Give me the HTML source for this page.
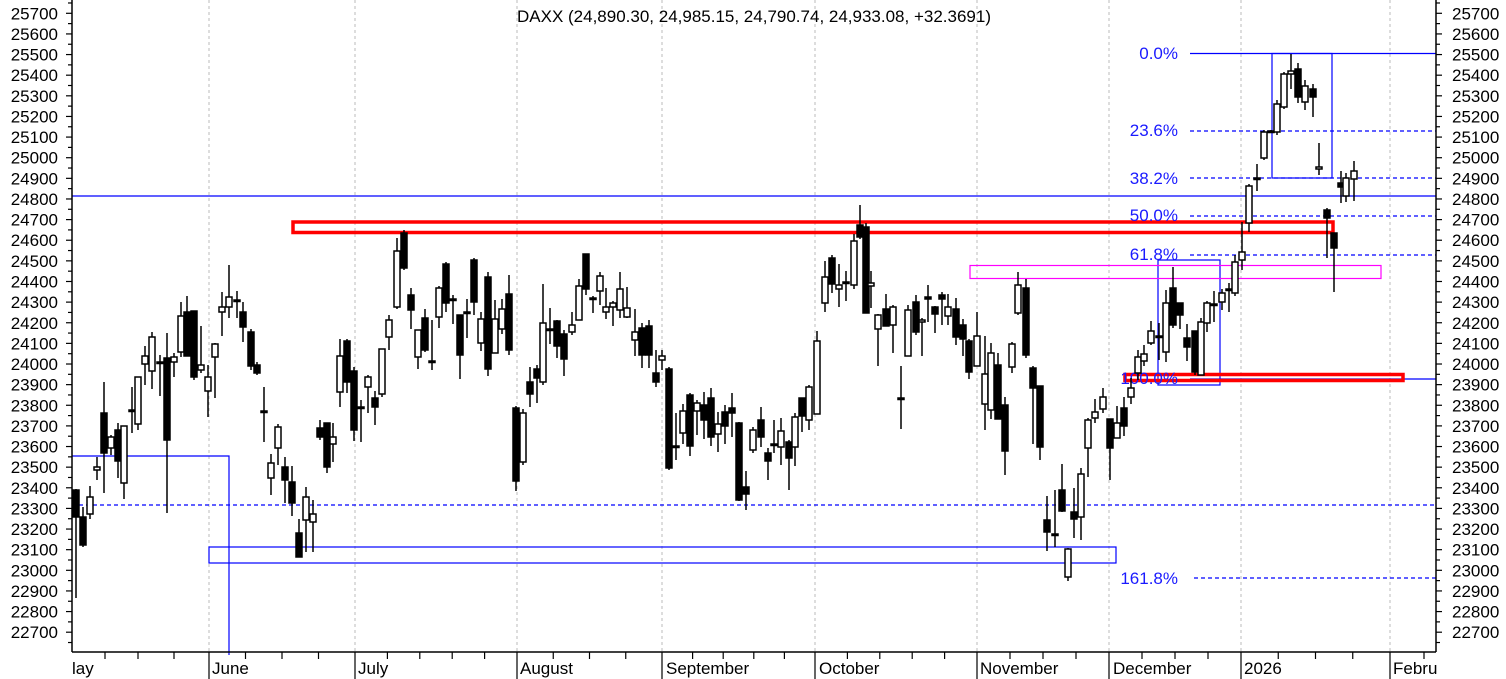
<!DOCTYPE html>
<html><head><meta charset="utf-8"><style>
html,body{margin:0;padding:0;background:#fff;}
svg{display:block;font-family:"Liberation Sans",sans-serif;}
</style></head><body>
<svg width="1506" height="679" viewBox="0 0 1506 679" xmlns="http://www.w3.org/2000/svg">
<rect width="1506" height="679" fill="#fff"/>
<g stroke="#bbb" stroke-width="1" stroke-dasharray="3,3">
<line x1="209" y1="0" x2="209" y2="652"/><line x1="355" y1="0" x2="355" y2="652"/><line x1="517" y1="0" x2="517" y2="652"/><line x1="662" y1="0" x2="662" y2="652"/><line x1="815" y1="0" x2="815" y2="652"/><line x1="977" y1="0" x2="977" y2="652"/><line x1="1109" y1="0" x2="1109" y2="652"/><line x1="1241" y1="0" x2="1241" y2="652"/><line x1="1390" y1="0" x2="1390" y2="652"/>
</g>
<text x="754" y="22" font-size="17" text-anchor="middle" fill="#000">DAXX (24,890.30, 24,985.15, 24,790.74, 24,933.08, +32.3691)</text>
<g fill="none" stroke="#0000ff" stroke-width="1.2">
<line x1="72" y1="196" x2="1436" y2="196"/>
<line x1="72" y1="505" x2="1436" y2="505" stroke-dasharray="4,3"/>
<line x1="1190" y1="53.5" x2="1436" y2="53.5"/>
<line x1="1190" y1="131" x2="1436" y2="131" stroke-dasharray="4,3"/>
<line x1="1190" y1="178" x2="1436" y2="178" stroke-dasharray="4,3"/>
<line x1="1190" y1="216" x2="1436" y2="216" stroke-dasharray="4,3"/>
<line x1="1190" y1="255" x2="1436" y2="255" stroke-dasharray="4,3"/>
<line x1="1190" y1="379" x2="1436" y2="379"/>
<line x1="1194" y1="578" x2="1436" y2="578" stroke-dasharray="4,3"/>
<rect x="1272" y="53.5" width="60" height="124.5"/>
<rect x="1158" y="260" width="62" height="125"/>
<rect x="209" y="547" width="907" height="16"/>
<polyline points="72,456 229,456 229,655"/>
</g>
<rect x="970" y="265.5" width="411" height="13" fill="none" stroke="#ff00ff" stroke-width="1.2"/>
<g fill="none" stroke="#ff0000" stroke-width="3.5">
<rect x="293" y="222" width="1040" height="10.5"/>
<rect x="1125" y="374.5" width="278" height="6"/>
</g>
<g fill="#1a1aff" font-size="17" text-anchor="end">
<text x="1178" y="59">0.0%</text>
<text x="1178" y="136">23.6%</text>
<text x="1178" y="184">38.2%</text>
<text x="1178" y="221">50.0%</text>
<text x="1178" y="260">61.8%</text>
<text x="1178" y="384">100.0%</text>
<text x="1178" y="584">161.8%</text>
</g>
<g id="c" stroke="#000" stroke-width="1.5"></g>
<g stroke="#000" stroke-width="1.5">
<line x1="72" y1="0" x2="72" y2="652"/>
<line x1="1436" y1="0" x2="1436" y2="652"/>
<line x1="72" y1="652" x2="1436" y2="652"/>
</g>
<g id="ax" stroke="#000" stroke-width="1.2"></g>
<g id="lbl" font-size="17" fill="#000"></g>
<g font-size="17" fill="#000">
<text x="72" y="674">lay</text><text x="212" y="674">June</text><text x="358" y="674">July</text><text x="520" y="674">August</text><text x="666" y="674">September</text><text x="819" y="674">October</text><text x="980" y="674">November</text><text x="1113" y="674">December</text><text x="1244" y="674">2026</text><text x="1393" y="674">Februa</text>
</g>
<rect x="1437" y="655" width="69" height="24" fill="#fff"/>
</svg>
<script>
var D=[
[76,490,517,489,598,1],[83,517,545,507,547,1],[90,497,514,486,519,0],[97,467,470,457,480,0],[104,413,453,382,493,1],[111,437,448,435,455,0],[118,430,461,423,478,1],[124,426,483,426,499,0],[132,410,411,387,433,1],[138,377,424,377,430,0],[145,356,364,346,385,0],[152,337,371,332,389,0],[160,362,363,355,396,1],[167,358,440,333,513,1],[174,357,362,353,377,0],[181,316,352,302,357,0],[187,312,356,296,356,1],[194,311,377,311,380,1],[201,365,370,326,373,0],[208,377,391,365,417,0],[215,344,357,343,398,0],[222,307,312,292,336,0],[229,297,307,265,318,0],[237,300,301,291,318,1],[243,312,327,302,342,1],[251,332,366,329,370,1],[257,365,373,362,375,1],[264,411,412,387,442,1],[271,463,478,454,495,0],[278,427,448,424,465,0],[285,467,480,457,503,1],[292,482,503,466,516,1],[299,533,557,519,557,1],[306,497,520,487,552,0],[313,514,522,500,552,0],[320,428,437,420,440,1],[327,423,467,423,473,1],[333,437,444,423,462,0],[340,356,392,339,407,0],[347,341,382,339,393,1],[354,371,430,367,441,1],[361,407,408,400,442,1],[368,377,387,375,413,0],[375,398,407,391,425,1],[382,349,394,349,397,0],[389,320,337,315,350,0],[397,251,307,238,309,0],[404,233,268,230,270,1],[411,295,310,288,329,1],[418,330,357,330,369,0],[425,318,350,309,352,1],[432,361,362,320,370,1],[439,288,317,286,328,0],[446,264,303,262,312,1],[453,299,300,295,324,1],[460,315,355,315,379,1],[467,312,313,299,338,1],[474,260,302,258,315,1],[481,319,343,312,351,0],[488,277,369,272,376,1],[495,319,353,300,353,0],[502,309,329,299,334,0],[509,294,350,275,355,1],[516,408,481,406,491,1],[523,413,462,409,465,0],[530,382,394,367,407,1],[537,369,378,365,403,1],[543,323,382,284,385,0],[550,329,330,308,344,1],[557,321,346,320,358,1],[564,334,359,330,376,1],[572,325,332,312,335,0],[579,286,320,279,320,0],[586,254,289,254,295,1],[593,298,299,296,313,1],[600,276,291,272,305,0],[606,307,312,288,319,0],[613,303,307,301,326,0],[620,289,310,272,318,0],[627,308,317,287,318,0],[635,332,340,309,356,0],[642,328,355,323,368,1],[649,326,355,320,368,1],[656,373,382,350,387,1],[662,356,360,350,370,0],[669,369,468,367,470,1],[676,446,447,413,460,1],[683,411,433,404,444,0],[690,395,446,393,456,1],[697,403,411,400,435,0],[704,405,420,392,439,1],[711,398,437,388,446,1],[718,424,434,412,452,0],[725,412,426,405,444,1],[732,408,413,393,437,1],[739,423,500,422,501,1],[746,487,494,471,510,1],[753,430,450,427,453,0],[761,420,437,407,447,1],[768,453,461,448,480,1],[774,444,445,420,453,1],[781,431,447,418,465,0],[789,442,458,440,490,1],[795,417,447,413,466,0],[802,398,416,398,432,1],[809,387,420,385,430,0],[817,341,414,331,414,0],[825,277,303,261,312,0],[832,258,284,255,293,1],[839,285,289,264,307,0],[846,282,283,271,301,1],[854,241,285,234,289,0],[860,225,237,205,239,1],[866,227,313,223,313,1],[871,283,286,271,308,0],[878,315,329,314,366,0],[886,309,326,294,326,1],[893,307,325,305,353,0],[901,398,399,366,429,1],[908,310,356,305,356,0],[916,302,332,295,335,1],[922,320,322,318,356,0],[928,297,299,285,322,1],[935,307,314,306,333,1],[942,295,299,292,325,1],[948,307,316,294,325,0],[956,309,337,298,345,1],[963,325,339,319,356,1],[969,341,372,339,379,1],[977,336,366,312,366,0],
[985,374,404,336,430,0],[991,353,410,343,419,0],[998,365,419,353,419,1],[1005,405,451,397,475,1],[1012,344,367,342,373,0],[1018,285,313,272,315,0],[1026,288,355,279,358,1],[1033,368,388,366,444,1],[1040,386,447,386,460,1],[1047,520,532,496,551,1],[1055,534,535,490,547,1],[1062,490,511,464,512,1],[1068,549,577,548,581,0],[1074,512,519,488,538,1],[1081,474,517,468,540,0],[1088,420,448,418,477,0],[1095,412,418,399,423,0],[1103,397,409,388,413,0],[1110,419,448,419,480,1],[1117,423,438,406,436,0],[1124,408,426,397,436,1],[1131,388,397,378,404,0],[1138,357,373,350,380,0],[1144,354,361,345,366,0],[1151,331,343,321,345,0],[1159,336,337,323,360,1],[1166,303,352,290,362,0],[1173,288,325,267,328,1],[1180,303,315,303,329,1],[1187,338,347,324,361,1],[1195,331,372,331,375,1],[1201,322,375,318,375,0],[1207,303,323,301,332,0],[1214,304,305,291,322,1],[1222,293,302,289,310,0],[1229,289,290,283,312,1],[1235,262,293,255,296,0],[1242,252,260,222,270,0],[1249,186,223,184,232,0],[1257,178,179,164,191,1],[1264,132,158,130,160,0],[1271,131,132,130,133,1],[1277,104,132,100,135,0],[1284,74,107,72,109,0],[1291,71,74,54,89,0],[1298,69,97,63,103,1],[1305,86,102,80,110,0],[1313,89,97,84,117,1],[1319,167,169,143,175,0],[1327,210,218,208,258,1],[1334,233,248,233,292,1],[1341,183,187,171,203,1],[1346,178,196,173,202,0],[1354,171,179,161,201,0]];
var NS="http://www.w3.org/2000/svg",g=document.getElementById("c");
function el(n,a,p){var e=document.createElementNS(NS,n);for(var k in a)e.setAttribute(k,a[k]);p.appendChild(e);return e;}
D.forEach(function(d){var x=d[0];
el("line",{x1:x,y1:d[3],x2:x,y2:d[4]},g);
var h=Math.max(d[2]-d[1],1.5);
el("rect",{x:x-3,y:d[1],width:6,height:h,fill:d[5]?"#000":"#fff"},g);});
var ax=document.getElementById("ax"),lb=document.getElementById("lbl");
function Y(v){return 13.3+(25700-v)*0.2063;}
for(var v=22600;v<=25750;v+=50){var y=Y(v);if(y<0||y>650)continue;var maj=v%100==0;
el("line",{x1:72-(maj?6:4),y1:y,x2:72,y2:y},ax);
el("line",{x1:1436,y1:y,x2:1436+(maj?6:4),y2:y},ax);
if(maj&&v<=25700){var t=el("text",{x:58,y:y+6,"text-anchor":"end"},lb);t.textContent=v;
var t2=el("text",{x:1452,y:y+6},lb);t2.textContent=v;}}
var months=[209,355,517,662,815,977,1109,1241,1390];
months.forEach(function(x){el("line",{x1:x,y1:652,x2:x,y2:679},ax);});
for(var i=0;i<months.length-1;i++){var a=months[i],b=months[i+1],n=Math.round((b-a)/34);for(var j=1;j<n;j++){var x=a+(b-a)*j/n;el("line",{x1:x,y1:652,x2:x,y2:659},ax);}}
[105,138,174].forEach(function(x){el("line",{x1:x,y1:652,x2:x,y2:659},ax);});
el("line",{x1:1424,y1:652,x2:1424,y2:659},ax);
</script>
</body></html>
